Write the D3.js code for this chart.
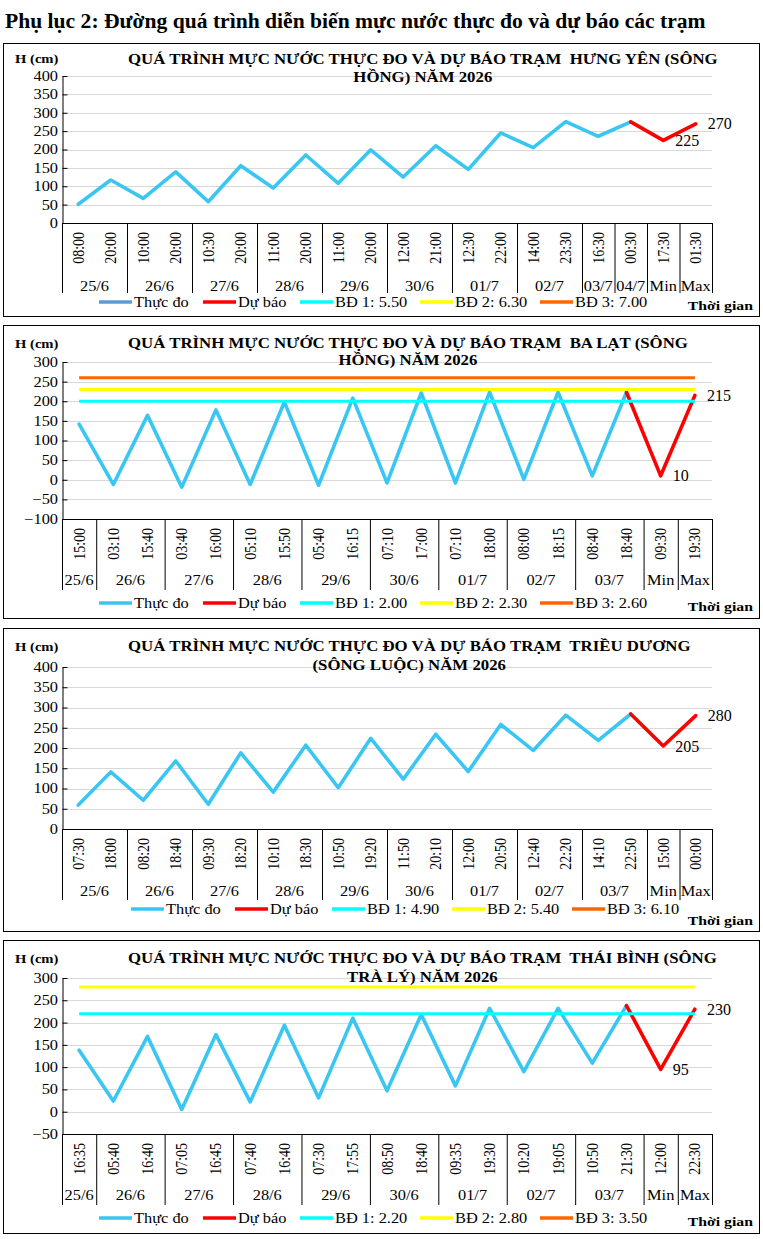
<!DOCTYPE html>
<html>
<head>
<meta charset="utf-8">
<script src="https://cdn.jsdelivr.net/npm/d3@7/dist/d3.min.js"></script>
<style>
  html, body { margin: 0; padding: 0; background: #fff; }
  svg text { font-family: "Liberation Serif", "Times New Roman", serif; white-space: pre; }
</style>
</head>
<body>
<svg id="chart" width="763" height="1239"></svg>
<script>
// ---------- DATA ----------
const heading = "Phụ lục 2: Đường quá trình diễn biến mực nước thực đo và dự báo các trạm";
const seriesNames = ["Thực đo", "Dự báo", "BĐ 1", "BĐ 2", "BĐ 3"];

// Panel 1: Hưng Yên (sông Hồng)
const title1 = ["QUÁ TRÌNH MỰC NƯỚC THỰC ĐO VÀ DỰ BÁO TRẠM  HƯNG YÊN (SÔNG", "HỒNG) NĂM 2026"];
const times1 = ["08:00","20:00","10:00","20:00","10:30","20:00","11:00","20:00","11:00","20:00","12:00","21:00","12:30","22:00","14:00","23:30","16:30","00:30","17:30","01:30"];
const groups1 = ["25/6","26/6","27/6","28/6","29/6","30/6","01/7","02/7","03/7","04/7","Min","Max"];
const groupSizes1 = [2,2,2,2,2,2,2,2,1,1,1,1];
const observed1 = [51,117,67,139,58,156,95,185,108,199,125,210,146,245,205,276,236,275];
const forecast1 = [275,225,270];
const alarm1 = [550,630,700];
const alarmLabels1 = ["5.50","6.30","7.00"];
const yDomain1 = [0, 400];

// Panel 2: Ba Lạt (sông Hồng)
const title2 = ["QUÁ TRÌNH MỰC NƯỚC THỰC ĐO VÀ DỰ BÁO TRẠM  BA LẠT (SÔNG", "HỒNG) NĂM 2026"];
const times2 = ["15:00","03:10","15:40","03:40","16:00","05:10","15:50","05:40","16:15","07:10","17:00","07:10","18:00","08:00","18:15","08:40","18:40","09:30","19:30"];
const groups2 = ["25/6","26/6","27/6","28/6","29/6","30/6","01/7","02/7","03/7","Min","Max"];
const groupSizes2 = [1,2,2,2,2,2,2,2,2,1,1];
const observed2 = [142,-12,164,-19,178,-12,198,-14,208,-8,221,-8,223,1,223,10,223];
const forecast2 = [223,10,215];
const alarm2 = [200,230,260];
const alarmLabels2 = ["2.00","2.30","2.60"];
const yDomain2 = [-100, 300];

// Panel 3: Triều Dương (sông Luộc)
const title3 = ["QUÁ TRÌNH MỰC NƯỚC THỰC ĐO VÀ DỰ BÁO TRẠM  TRIỀU DƯƠNG", "(SÔNG LUỘC) NĂM 2026"];
const times3 = ["07:30","18:00","08:20","18:40","09:30","18:20","10:10","18:30","10:50","19:20","11:50","20:10","12:00","20:50","12:40","22:20","14:10","22:50","15:00","00:00"];
const groups3 = ["25/6","26/6","27/6","28/6","29/6","30/6","01/7","02/7","03/7","Min","Max"];
const groupSizes3 = [2,2,2,2,2,2,2,2,2,1,1];
const observed3 = [59,141,71,168,61,188,91,207,102,224,123,234,142,258,194,281,219,284];
const forecast3 = [284,205,280];
const alarm3 = [490,540,610];
const alarmLabels3 = ["4.90","5.40","6.10"];
const yDomain3 = [0, 400];

// Panel 4: Thái Bình (sông Trà Lý)
const title4 = ["QUÁ TRÌNH MỰC NƯỚC THỰC ĐO VÀ DỰ BÁO TRẠM  THÁI BÌNH (SÔNG", "TRÀ LÝ) NĂM 2026"];
const times4 = ["16:35","05:40","16:40","07:05","16:45","07:40","16:40","07:30","17:55","08:50","18:40","09:35","19:30","10:20","19:05","10:50","21:30","12:00","22:30"];
const groups4 = ["25/6","26/6","27/6","28/6","29/6","30/6","01/7","02/7","03/7","Min","Max"];
const groupSizes4 = [1,2,2,2,2,2,2,2,2,1,1];
const observed4 = [138,24,169,5,173,22,194,31,210,47,218,58,232,90,232,109,238];
const forecast4 = [238,95,230];
const alarm4 = [220,280,350];
const alarmLabels4 = ["2.20","2.80","3.50"];
const yDomain4 = [-50, 300];

const yTickStep = 50;

// ---------- STYLE ----------
const colObs = "#3AC6F3";
const colFc = "#FF0000";
const colAlarm = ["#00FFFF", "#FFFF00", "#FF6600"];
const gridCol = "#D9D9D9";
const SX = 1.17;      // horizontal stretch of the reference's lettering
const SX_TITLE = 1.2;

const layouts = [
  {top:43, bottom:316, plotTop:76, plotBottom:223, t1:21, t2:39, hcm:20, dateBase:248, sepEnd:250, legY:259, tgBase:267, legShift:0, legObsCol:"#5B9BD5"},
  {top:325, bottom:618, plotTop:362, plotBottom:519, t1:23, t2:40, hcm:23, dateBase:260, sepEnd:265, legY:278, tgBase:286, legShift:0, legObsCol:colObs},
  {top:628, bottom:931, plotTop:667, plotBottom:829, t1:23, t2:42, hcm:23, dateBase:268, sepEnd:272, legY:281, tgBase:297, legShift:32, legObsCol:colObs},
  {top:940, bottom:1233, plotTop:978, plotBottom:1134, t1:23, t2:42, hcm:23, dateBase:260, sepEnd:265, legY:278, tgBase:286, legShift:0, legObsCol:colObs}
];

const panelData = [
  {title:title1, times:times1, groups:groups1, sizes:groupSizes1, obs:observed1, fc:forecast1, alarm:alarm1, alarmLabels:alarmLabels1, dom:yDomain1},
  {title:title2, times:times2, groups:groups2, sizes:groupSizes2, obs:observed2, fc:forecast2, alarm:alarm2, alarmLabels:alarmLabels2, dom:yDomain2},
  {title:title3, times:times3, groups:groups3, sizes:groupSizes3, obs:observed3, fc:forecast3, alarm:alarm3, alarmLabels:alarmLabels3, dom:yDomain3},
  {title:title4, times:times4, groups:groups4, sizes:groupSizes4, obs:observed4, fc:forecast4, alarm:alarm4, alarmLabels:alarmLabels4, dom:yDomain4}
];

const svg = d3.select("#chart");
svg.append("rect").attr("width",763).attr("height",1239).attr("fill","#fff");

// stretched text helper
function stext(parent, x, y, str, size, opts = {}) {
  const sx = opts.sx || SX;
  const t = parent.append("text")
    .attr("transform", `translate(${x},${y}) scale(${sx},1)`)
    .attr("font-size", size).attr("fill", "#000")
    .attr("text-anchor", opts.anchor || "start")
    .text(str);
  if (opts.bold) t.attr("font-weight", "bold");
  if (opts.dy) t.attr("dy", opts.dy);
  return t;
}

svg.append("text").attr("x",5).attr("y",28)
  .attr("font-size",21.6).attr("font-weight","bold").attr("fill","#000")
  .text(heading);

const xLeft = 62, xRight = 712;

panelData.forEach((pd, pi) => {
  const L = layouts[pi];
  const g = svg.append("g");
  g.append("rect").attr("x",3.5).attr("y",L.top+0.5).attr("width",756).attr("height",L.bottom-L.top)
    .attr("fill","none").attr("stroke","#000").attr("stroke-width",1);

  const idx = pd.times.map((d,i)=>i);
  const x = d3.scaleBand().domain(idx).range([xLeft,xRight]).padding(0);
  const cx = i => x(i) + x.bandwidth()/2;
  const y = d3.scaleLinear().domain(pd.dom).range([L.plotBottom, L.plotTop]);
  const ticks = d3.range(pd.dom[0], pd.dom[1] + 1, yTickStep);

  // grid
  g.append("g").selectAll("line").data(ticks.filter(t => t !== pd.dom[0])).join("line")
    .attr("x1",xLeft).attr("x2",xRight)
    .attr("y1",d=>Math.round(y(d))+0.5).attr("y2",d=>Math.round(y(d))+0.5)
    .attr("stroke",gridCol).attr("stroke-width",1);

  // y axis
  const yAxis = d3.axisLeft(y).tickValues(ticks).tickSizeInner(-5).tickSizeOuter(0).tickPadding(0).tickFormat(d3.format("d"));
  const ya = g.append("g").attr("transform",`translate(${xLeft+0.5},0)`).call(yAxis);
  ya.attr("font-family", null);
  ya.select(".domain").attr("stroke","#000");
  ya.selectAll(".tick line").attr("stroke","#000");
  ya.selectAll(".tick text").attr("font-size",14).attr("fill","#000")
    .attr("x", null)
    .attr("transform", `translate(-4.5,0) scale(${SX},1)`);

  // x axis line
  const y0 = L.plotBottom + 0.5;
  g.append("line").attr("x1",xLeft).attr("x2",xRight).attr("y1",y0).attr("y2",y0).attr("stroke","#000");

  // time labels rotated
  g.append("g").selectAll("text").data(pd.times).join("text")
    .attr("transform",(d,i)=>`translate(${cx(i)+5.5},${L.plotBottom+9}) rotate(-90) scale(1,${SX})`)
    .attr("text-anchor","end").attr("font-size",14).attr("fill","#000")
    .text(d=>d);

  // group separators and labels
  let start = 0;
  const bounds = [0];
  pd.sizes.forEach(s => { start += s; bounds.push(start); });
  const bx = b => (b === pd.times.length ? xRight : x(b));
  g.append("g").selectAll("line").data(bounds).join("line")
    .attr("x1",b=> bx(b) + 0.5).attr("x2",b=> bx(b) + 0.5)
    .attr("y1",L.plotBottom).attr("y2",L.top + L.sepEnd)
    .attr("stroke","#000");
  pd.groups.forEach((gname, i) => {
    stext(g, (bx(bounds[i]) + bx(bounds[i+1]))/2, L.top + L.dateBase, gname, 14, {anchor:"middle"});
  });

  const line = d3.line().x(d=>cx(d.i)).y(d=>y(d.v));

  // observed
  const obsPts = pd.obs.map((v,i)=>({i,v}));
  g.append("path").datum(obsPts).attr("d",line)
    .attr("fill","none").attr("stroke",colObs).attr("stroke-width",3.6)
    .attr("stroke-linejoin","round").attr("stroke-linecap","round");

  // forecast
  const fcStart = pd.obs.length - 1;
  const fcPts = pd.fc.map((v,k)=>({i:fcStart+k, v}));
  g.append("path").datum(fcPts).attr("d",line)
    .attr("fill","none").attr("stroke",colFc).attr("stroke-width",3.6)
    .attr("stroke-linejoin","round").attr("stroke-linecap","round");

  // alarm levels (only those inside the axis range)
  pd.alarm.forEach((a,k)=>{
    if (a > pd.dom[1] || a < pd.dom[0]) return;
    g.append("line").attr("x1",cx(0)).attr("x2",cx(pd.times.length-1))
      .attr("y1",y(a)).attr("y2",y(a))
      .attr("stroke",colAlarm[k]).attr("stroke-width",3);
  });

  // min / max labels
  const nFc = fcPts.length;
  [fcPts[nFc-2], fcPts[nFc-1]].forEach(p => {
    stext(g, cx(p.i)+12, y(p.v), String(p.v), 16, {dy:"0.35em", sx:1.0});
  });

  // y title
  stext(g, 15, L.top+L.hcm, "H (cm)", 12.5, {bold:true});

  // chart title
  const tl1 = stext(g, 128, L.top+L.t1, pd.title[0], 14, {bold:true, sx:SX_TITLE});
  const w1 = tl1.node().getComputedTextLength() * SX_TITLE;
  stext(g, 128 + w1/2, L.top+L.t2, pd.title[1], 14, {bold:true, anchor:"middle", sx:SX_TITLE});

  // legend
  const legX = [99,203,300,420,540].map(v=>v+L.legShift);
  const legCols = [L.legObsCol, colFc].concat(colAlarm);
  const legTexts = [seriesNames[0], seriesNames[1]].concat(pd.alarmLabels.map((s,k)=>`${seriesNames[2+k]}: ${s}`));
  legTexts.forEach((t,k)=>{
    g.append("line").attr("x1",legX[k]).attr("x2",legX[k]+33)
      .attr("y1",L.top+L.legY).attr("y2",L.top+L.legY)
      .attr("stroke",legCols[k]).attr("stroke-width",3.5);
    stext(g, legX[k]+35, L.top+L.legY, t, 14, {dy:"0.35em"});
  });

  stext(g, 753, L.top+L.tgBase, "Thời gian", 13.5, {bold:true, anchor:"end"});
});
</script>
</body>
</html>
